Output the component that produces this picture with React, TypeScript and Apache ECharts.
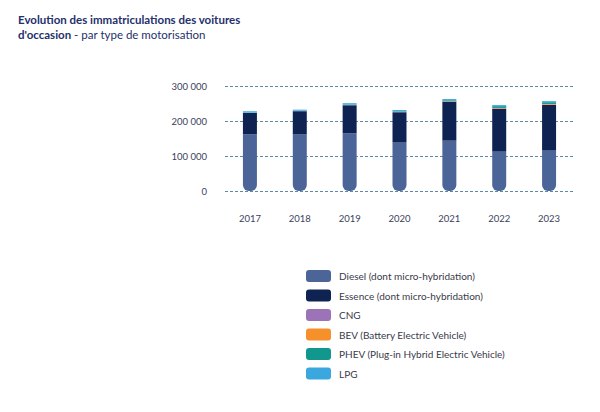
import React, { useEffect, useRef } from "react";
import * as echarts from "echarts";

const years = ["2017", "2018", "2019", "2020", "2021", "2022", "2023"];
const seriesNames = [
  "Diesel (dont micro-hybridation)",
  "Essence (dont micro-hybridation)",
  "CNG",
  "BEV (Battery Electric Vehicle)",
  "PHEV (Plug-in Hybrid Electric Vehicle)",
  "LPG",
];
const diesel = [162000, 162000, 165000, 140000, 144000, 114000, 117000];
const essence = [61000, 66000, 80000, 85000, 111000, 121000, 129000];
const cng = [500, 500, 600, 700, 800, 900, 900];
const bev = [200, 300, 400, 600, 900, 1500, 1800];
const phev = [500, 600, 900, 1500, 2500, 5000, 5000];
const lpg = [4000, 3000, 4000, 3500, 3500, 3000, 3000];
const colors = ["#4b6598", "#0e2352", "#9b73b6", "#f5902a", "#11978d", "#3aa8de"];
const yTicks = [0, 100000, 200000, 300000];

const fmt = (v: number) => String(v).replace(/\B(?=(\d{3})+(?!\d))/g, " ");

export default function App() {
  const ref = useRef<HTMLDivElement>(null);
  useEffect(() => {
    if (!ref.current) return;
    const chart = echarts.init(ref.current, null, { renderer: "svg" });
    const values = [diesel, essence, cng, bev, phev, lpg];
    chart.setOption({
      animation: false,
      textStyle: { fontFamily: "Lato, 'Open Sans', sans-serif" },
      graphic: [
        {
          type: "text",
          left: 18,
          top: 13,
          style: {
            text: "{b|Evolution des immatriculations des voitures}\n{b|d'occasion}{r| - par type de motorisation}",
            rich: {
              b: { fontSize: 11.5, fontWeight: "bold", fill: "#25306b", fontFamily: "Lato, sans-serif", lineHeight: 15 },
              r: { fontSize: 11.5, fill: "#25306b", fontFamily: "Lato, sans-serif", lineHeight: 15 },
            },
          },
        },
      ],
      legend: {
        orient: "vertical",
        left: 306,
        top: 270,
        padding: 0,
        itemWidth: 25,
        itemHeight: 12,
        itemGap: 7.5,
        icon: "roundRect",
        textStyle: { fontSize: 10, color: "#3a3a4a", padding: [0, 0, 0, 3] },
        data: seriesNames,
        selectedMode: false,
      },
      grid: { left: 225, right: 26, top: 86, bottom: 221 },
      xAxis: {
        type: "category",
        data: years,
        axisLine: { show: false },
        axisTick: { show: false },
        axisLabel: { color: "#3b3f5c", fontSize: 9.5, margin: 22 },
      },
      yAxis: {
        type: "value",
        min: 0,
        max: 300000,
        interval: 100000,
        axisLine: { show: false },
        axisTick: { show: false },
        axisLabel: {
          color: "#3b3f5c",
          fontSize: 9.5,
          margin: 18,
          formatter: (v: number) => (yTicks.includes(v) ? fmt(v) : ""),
        },
        splitLine: { lineStyle: { type: [3, 2], color: "#5a8aa6", width: 1 } },
      },
      series: seriesNames.map((name, i) => ({
        name,
        type: "bar",
        stack: "total",
        barWidth: 14,
        data: values[i],
        itemStyle: {
          color: colors[i],
          borderRadius: i === 0 ? [0, 0, 6, 6] : 0,
        },
      })),
    });
    return () => chart.dispose();
  }, []);
  return (
    <div
      ref={ref}
      style={{ position: "fixed", left: 0, top: 0, width: 600, height: 412, background: "#fff" }}
    />
  );
}
